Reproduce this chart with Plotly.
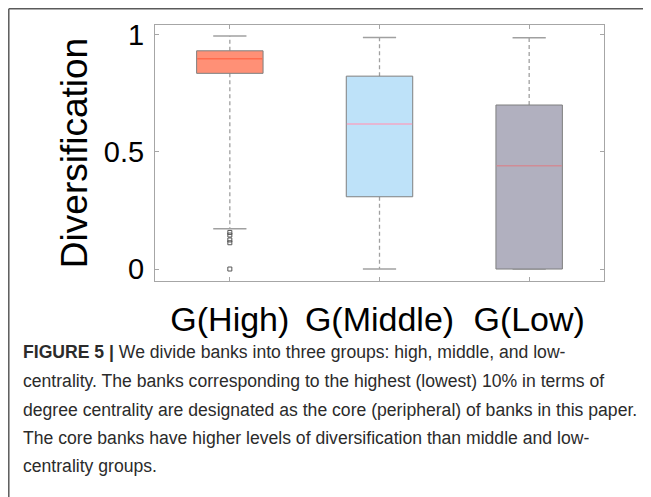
import plotly.graph_objects as go

# ---------------- data ----------------
groups = ["G(High)", "G(Middle)", "G(Low)"]
q1 = [0.834, 0.308, 0.0]
median = [0.896, 0.618, 0.440]
q3 = [0.930, 0.822, 0.699]
lower_whisker = [0.172, 0.0, 0.0]
upper_whisker = [0.993, 0.987, 0.986]
outliers_high = [0.156, 0.145, 0.124, 0.112, 0.0]

fill_colors = ["#FF9076", "#BEE2F9", "#B1B0BF"]
median_colors = ["#FF6B4D", "#F2A9C6", "#D08C96"]
edge_color = "#7F7F7F"
whisker_color = "#A0A0A0"

caption_lines = [
    "<b>FIGURE 5 |</b> We divide banks into three groups: high, middle, and low-",
    "centrality. The banks corresponding to the highest (lowest) 10% in terms of",
    "degree centrality are designated as the core (peripheral) of banks in this paper.",
    "The core banks have higher levels of diversification than middle and low-",
    "centrality groups.",
]

# ---------------- layout geometry (window pixels) ----------------
OFF = 8                      # default page body margin
WIN_W, WIN_H = 651, 497
W, H = WIN_W - OFF, WIN_H - OFF
PLOT_L, PLOT_R, PLOT_T, PLOT_B = 155, 604, 25, 281
ML, MR, MT, MB = PLOT_L - OFF, WIN_W - PLOT_R, PLOT_T - OFF, WIN_H - PLOT_B
PW, PH = PLOT_R - PLOT_L, PLOT_B - PLOT_T


def px_x(x):
    return (x - PLOT_L) / PW


def px_y(y):
    return (PLOT_B - y) / PH


half = 0.222
cap_half = 0.111
FONT = "Liberation Sans, Arial, sans-serif"

fig = go.Figure()

for i, g in enumerate(groups):
    # dashed whiskers
    fig.add_trace(go.Scatter(
        x=[i, i, None, i, i], y=[q3[i], upper_whisker[i], None, q1[i], lower_whisker[i]],
        mode="lines", line=dict(color=whisker_color, width=1.3, dash="4px,3px"),
        hoverinfo="skip", showlegend=False))
    # caps
    fig.add_trace(go.Scatter(
        x=[i - cap_half, i + cap_half, None, i - cap_half, i + cap_half],
        y=[upper_whisker[i], upper_whisker[i], None, lower_whisker[i], lower_whisker[i]],
        mode="lines", line=dict(color=whisker_color, width=1.5),
        hoverinfo="skip", showlegend=False))
    # box
    fig.add_trace(go.Scatter(
        x=[i - half, i + half, i + half, i - half, i - half],
        y=[q1[i], q1[i], q3[i], q3[i], q1[i]],
        mode="lines", fill="toself", fillcolor=fill_colors[i],
        line=dict(color=edge_color, width=1), name=g, showlegend=False))
    # median
    fig.add_trace(go.Scatter(
        x=[i - half + 0.004, i + half - 0.004], y=[median[i], median[i]],
        mode="lines", line=dict(color=median_colors[i], width=1.5),
        hoverinfo="skip", showlegend=False))

# outliers
fig.add_trace(go.Scatter(
    x=[0] * len(outliers_high), y=outliers_high, mode="markers",
    marker=dict(symbol="square-open", size=4, color="#555555", line=dict(width=1)),
    showlegend=False))

# caption
caption_y = [352, 381, 410, 438, 466]
for line, yy in zip(caption_lines, caption_y):
    fig.add_annotation(
        text=line, xref="paper", yref="paper", x=px_x(21), y=px_y(yy),
        xanchor="left", yanchor="middle", showarrow=False,
        font=dict(family=FONT, size=17.6, color="#2B2B2B"))

# outer frame (left and top lines)
fig.add_shape(type="line", xref="paper", yref="paper",
              x0=px_x(8.8), x1=px_x(8.8), y0=px_y(8.8), y1=px_y(WIN_H + 10),
              line=dict(color="#5A5A5A", width=1.5))
fig.add_shape(type="line", xref="paper", yref="paper",
              x0=px_x(8.8), x1=px_x(WIN_W + 10), y0=px_y(8.8), y1=px_y(8.8),
              line=dict(color="#5A5A5A", width=1.5))

fig.update_layout(
    width=W, height=H,
    margin=dict(l=ML, r=MR, t=MT, b=MB, autoexpand=False),
    paper_bgcolor="white", plot_bgcolor="white",
    font=dict(family=FONT, color="#000000"),
    xaxis=dict(
        range=[-0.5, 2.5], tickvals=[0, 1, 2], ticktext=groups,
        showline=True, linecolor="#A6A6A6", linewidth=1, mirror="ticks",
        ticks="inside", ticklen=4, tickcolor="#A6A6A6",
        showgrid=False, zeroline=False, automargin=False,
        tickfont=dict(family=FONT, size=34, color="#000000"), ticklabelstandoff=8,
    ),
    yaxis=dict(
        range=[-0.051, 1.040], tickvals=[0, 0.5, 1], ticktext=["0", "0.5", "1"],
        showline=True, linecolor="#A6A6A6", linewidth=1, mirror="ticks",
        ticks="inside", ticklen=4, tickcolor="#A6A6A6",
        showgrid=False, zeroline=False, automargin=False,
        tickfont=dict(size=29, color="#000000"), ticklabelstandoff=4,
        title=dict(text="Diversification", font=dict(family=FONT, size=37, color="#000000"), standoff=4),
    ),
)

fig.write_html("out.html")
